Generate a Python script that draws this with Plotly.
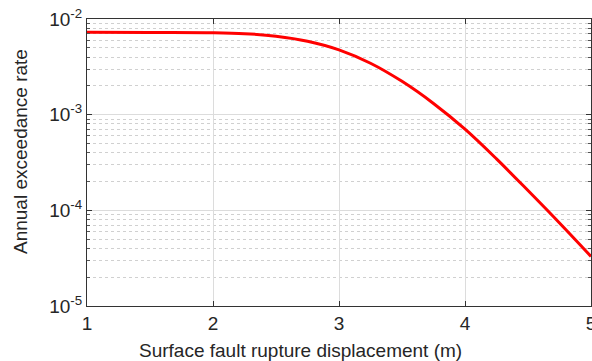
import plotly.graph_objects as go

disp = [1.0, 1.5, 2.0, 2.25, 2.5, 2.75, 3.0, 3.25, 3.5, 3.75, 4.0, 4.25, 4.5, 4.75, 5.0]
rate = [7.29e-3, 7.24e-3, 7.19e-3, 7.03e-3, 6.61e-3, 5.86e-3, 4.76e-3, 3.45e-3, 2.23e-3,
        1.31e-3, 7.05e-4, 3.45e-4, 1.61e-4, 7.38e-5, 3.30e-5]

xticks = [1, 2, 3, 4, 5]
yticks = [1e-5, 1e-4, 1e-3, 1e-2]
yticktext = ["10<sup>-5</sup>", "10<sup>-4</sup>", "10<sup>-3</sup>", "10<sup>-2</sup>"]
yminor = [k * 10.0 ** e for e in (-5, -4, -3) for k in range(2, 10)]
xtitle = "Surface fault rupture displacement (m)"
ytitle = "Annual exceedance rate"

fig = go.Figure()
fig.add_trace(go.Scatter(x=disp, y=rate, mode="lines",
                         line=dict(color="#ff0000", width=3, shape="spline", smoothing=1.0),
                         showlegend=False))

font = dict(family="Liberation Sans, Arial, sans-serif", size=19, color="#262626")

fig.update_layout(
    width=592, height=361,
    margin=dict(l=87, r=1, t=19, b=55),
    paper_bgcolor="white", plot_bgcolor="white",
    font=font,
)
fig.update_xaxes(
    range=[1, 5], tickvals=xticks, ticktext=[str(v) for v in xticks],
    ticklabeloverflow="allow", automargin=False,
    showgrid=True, gridcolor="#dcdcdc", gridwidth=1,
    showline=True, linecolor="#333333", linewidth=1, mirror="ticks",
    ticks="inside", ticklen=5, tickcolor="#333333",
    zeroline=False,
)
fig.update_yaxes(
    type="log", range=[-5, -2], tickvals=yticks, ticktext=yticktext,
    automargin=False,
    showgrid=True, gridcolor="#dcdcdc", gridwidth=1,
    showline=True, linecolor="#333333", linewidth=1, mirror="ticks",
    ticks="inside", ticklen=5, tickcolor="#333333",
    minor=dict(tickmode="array", tickvals=yminor, ticks="inside", ticklen=3,
               tickcolor="#555555", showgrid=True,
               gridcolor="#d0d0d0", griddash="dot", gridwidth=1),
    zeroline=False,
)
fig.add_annotation(text=xtitle, xref="paper", yref="paper", x=(300 - 87) / 504, y=0,
                   xanchor="center", yanchor="middle", yshift=-44, showarrow=False,
                   font=dict(size=19, color="#262626"))
fig.add_annotation(text=ytitle, xref="paper", yref="paper", x=0, y=(306 - 152) / 287,
                   xanchor="center", yanchor="middle", xshift=-67, textangle=-90,
                   showarrow=False, font=dict(size=19, color="#262626"))

fig.write_html("out.html")
